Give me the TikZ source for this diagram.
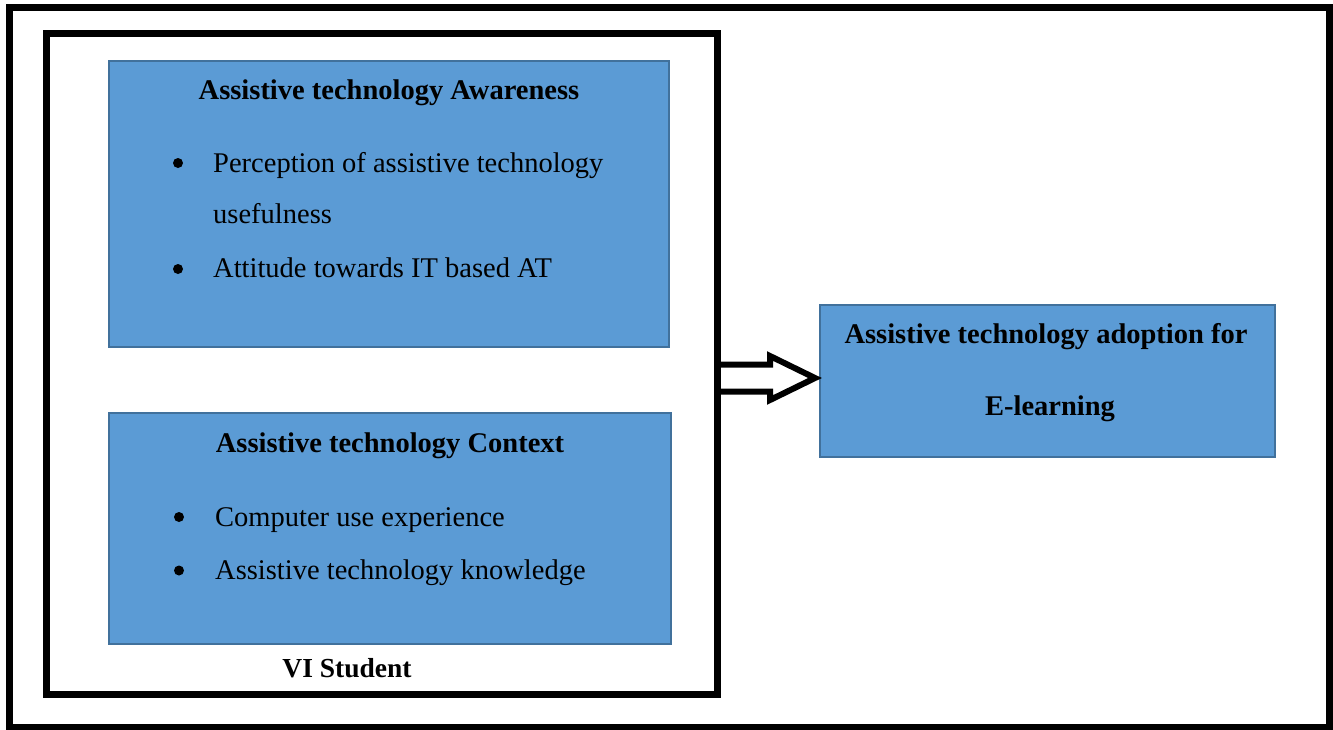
\documentclass[tikz,border=0pt]{standalone}
\usepackage{fontspec}
\setmainfont{Liberation Serif}
\usetikzlibrary{calc,positioning}
\definecolor{boxfill}{HTML}{5B9BD5}
\definecolor{boxline}{HTML}{41719C}

\begin{document}
\begin{tikzpicture}[% styles used in image code
      x = 1pt, y = -1pt,
  frame/.style = {draw, line width=7pt, inner sep=0pt, outer sep=0pt},
bluebox/.style = {draw=boxline, line width=1.2pt, fill=boxfill,
                  inner sep=0pt, outer sep=0pt},
   head/.style = {font=\fontsize{28.5}{34}\selectfont\bfseries,
                  anchor=base, inner sep=0pt},
   item/.style = {font=\fontsize{28.5}{34}\selectfont,
                  anchor=base west, inner sep=0pt},
    dot/.style = {circle, fill, minimum size=10pt, inner sep=0pt},
 hollow/.style = {line width=6pt, miter limit=10}
                    ]
	\useasboundingbox (0,0) rectangle (1333,729);
	% outer border
	\draw[line width=7pt] (9,7.5) rectangle (1329,727);

	% VI student frame with its two boxes
	\node[frame, minimum width=671pt, minimum height=661pt] (vi) at (381.5,363.5) {};
	\node[bluebox, minimum width=560pt, minimum height=286pt] (aware) at (389,204) {};
	\node[bluebox, minimum width=562pt, minimum height=231pt] (context) at (390,528.5) {};
	\node[head, font=\fontsize{27.5}{33}\selectfont\bfseries] (student) at (347,677) {VI Student};

	% awareness
	\node[head] (awarehead) at ($(aware.north)+(0,38)$) {Assistive technology Awareness};
	\node[dot]  (awaredot1) at (178,163) {};
	\node[item] (awareitem1) at (213,172) {Perception of assistive technology};
	\node[item] (awareitem1b) at (213,223) {usefulness};
	\node[dot]  (awaredot2) at (178,269) {};
	\node[item] (awareitem2) at (213,277) {Attitude towards IT based AT};

	% context
	\node[head] (contexthead) at ($(context.north)+(0,39)$) {Assistive technology Context};
	\node[dot]  (contextdot1) at (179,517) {};
	\node[item] (contextitem1) at (215,526) {Computer use experience};
	\node[dot]  (contextdot2) at (179,570.5) {};
	\node[item] (contextitem2) at (215,579.5) {Assistive technology knowledge};

	% adoption
	\node[bluebox, minimum width=455pt, minimum height=152pt] (adopt) at (1047.5,381) {};
	\node[head] (adopthead1) at ($(adopt.north)+(-1.5,38)$) {Assistive technology adoption for};
	\node[head] (adopthead2) at ($(adopt.north)+(2.5,110)$) {E-learning};

	% block arrow
	\coordinate (tip) at ($(adopt.west)+(-5,-3)$);
	\draw[hollow] ($(vi.east |- tip)+(0,-13.5)$) -- ($(tip)+(-45,-13.5)$)
	      -- ($(tip)+(-45,-22)$) -- (tip) -- ($(tip)+(-45,22)$)
	      -- ($(tip)+(-45,13.5)$) -- ($(vi.east |- tip)+(0,13.5)$);
\end{tikzpicture}
\end{document}
